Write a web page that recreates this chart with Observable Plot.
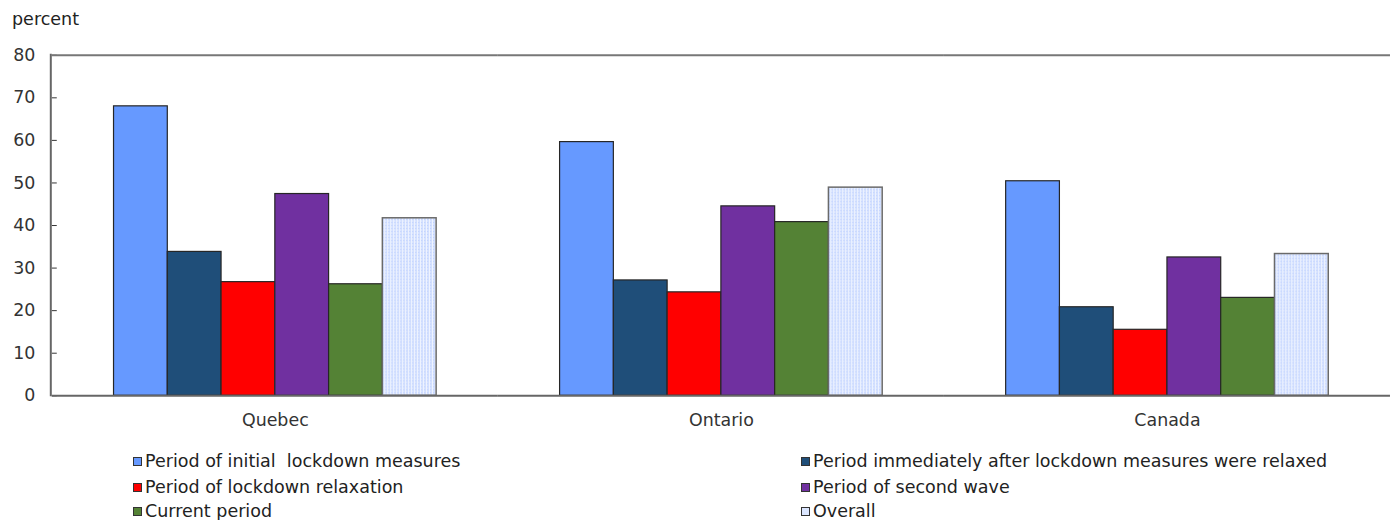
<!DOCTYPE html>
<html><head><meta charset="utf-8">
<script src="https://cdn.jsdelivr.net/npm/d3@7"></script>
<script src="https://cdn.jsdelivr.net/npm/@observablehq/plot@0.6"></script>
<style>
html,body{margin:0;padding:0;background:#fff;overflow:hidden;width:1390px;height:520px;}
#wrap{position:relative;width:1390px;height:520px;overflow:hidden;font-family:"DejaVu Sans",Verdana,sans-serif;font-size:17.5px;color:#222;}
#unit{position:absolute;left:12px;top:8px;line-height:22px;}
#chart{position:absolute;left:0;top:0;}
.leg{position:absolute;display:flex;align-items:center;white-space:nowrap;line-height:20px;height:20px;}
.sw{width:9px;height:9px;border:1px solid #333;margin-right:3px;box-sizing:border-box;flex:none;}
</style></head>
<body><div id="wrap"><div id="unit">percent</div><div id="chart"></div><div id="legend"></div></div>
<script>
const regions = ["Quebec", "Ontario", "Canada"];
const seriesNames = [
  "Period of initial lockdown measures",
  "Period immediately after lockdown measures were relaxed",
  "Period of lockdown relaxation",
  "Period of second wave",
  "Current period",
  "Overall"
];
const legendLabels = [
  "Period of initial\u00a0 lockdown measures",
  "Period immediately after lockdown measures were relaxed",
  "Period of lockdown relaxation",
  "Period of second wave",
  "Current period",
  "Overall"
];
const seriesColors = ["#6699ff", "#1f4e79", "#ff0000", "#7030a0", "#548235", "url(#overallPattern)"];
const legendSwatches = ["#6699ff", "#1f4e79", "#ff0000", "#7030a0", "#548235", "#dbe6ff"];
const quebecValues = [68.0, 33.8, 26.7, 47.4, 26.2, 41.7];
const ontarioValues = [59.6, 27.1, 24.3, 44.5, 40.8, 48.9];
const canadaValues = [50.4, 20.8, 15.5, 32.5, 23.0, 33.3];
const yTicks = [0, 10, 20, 30, 40, 50, 60, 70, 80];

const valuesByRegion = [quebecValues, ontarioValues, canadaValues];
const data = [];
regions.forEach((r, i) => seriesNames.forEach((s, j) => data.push({region: r, series: s, value: valuesByRegion[i][j]})));
const solidData = data.filter(d => d.series !== "Overall");
const overallData = data.filter(d => d.series === "Overall");

const plot = Plot.plot({
  width: 1396, height: 430,
  marginLeft: 51, marginRight: 0, marginTop: 55, marginBottom: 33,
  style: {fontFamily: "'DejaVu Sans', Verdana, sans-serif", fontSize: "17.5px", color: "#333", background: "transparent", overflow: "visible"},
  fx: {domain: regions, padding: 0, label: null, axis: "bottom", tickSize: 0, tickPadding: 18},
  x: {domain: seriesNames, axis: null, paddingInner: 0, paddingOuter: 1.1},
  y: {domain: [0, 80], ticks: yTicks, label: null, tickSize: -5, tickPadding: 22},
  color: {domain: seriesNames, range: seriesColors},
  marks: [
    Plot.barY(solidData, {fx: "region", x: "series", y: "value", fill: "series", stroke: "#262626", strokeWidth: 1.2}),
    Plot.barY(overallData, {fx: "region", x: "series", y: "value", fill: "series", stroke: "#6a6a6a", strokeWidth: 1.5}),
    Plot.ruleY([0], {stroke: "#666", strokeWidth: 2}),
    Plot.ruleY([80], {stroke: "#777", strokeWidth: 2})
  ]
});

const svg = d3.select(plot);
const defs = svg.insert("defs", ":first-child");
const pat = defs.append("pattern").attr("id", "overallPattern").attr("patternUnits", "userSpaceOnUse").attr("width", 3).attr("height", 3);
pat.append("rect").attr("width", 3).attr("height", 3).attr("fill", "#d3e0ff");
pat.append("rect").attr("x", 1).attr("width", 1).attr("height", 3).attr("fill", "#f4f7ff");
pat.append("rect").attr("x", 2).attr("y", 1).attr("width", 1).attr("height", 1).attr("fill", "#b8ccff");

const ys = plot.scale("y");
const fxs = plot.scale("fx");
const x0 = fxs.range[0];
svg.append("line").attr("x1", x0).attr("x2", x0)
  .attr("y1", ys.apply(ys.domain[0]) + 1).attr("y2", ys.apply(ys.domain[1]) - 1)
  .attr("stroke", "#666").attr("stroke-width", 2);

document.getElementById("chart").appendChild(plot);

const legend = document.getElementById("legend");
const legendCols = [133, 801];
const legendRows = [461, 487, 511];
legendLabels.forEach((s, i) => {
  const el = document.createElement("div");
  el.className = "leg";
  el.style.left = legendCols[i % 2] + "px";
  el.style.top = (legendRows[Math.floor(i / 2)] - 10) + "px";
  el.innerHTML = `<span class="sw" style="background:${legendSwatches[i]}"></span><span>${s}</span>`;
  legend.appendChild(el);
});
</script>
</body></html>
